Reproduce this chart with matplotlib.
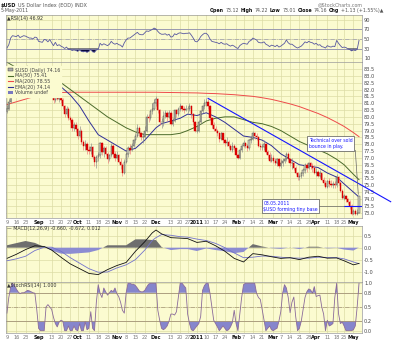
import numpy as np
import pandas as pd
import matplotlib
matplotlib.use("Agg")
import matplotlib.pyplot as plt
from matplotlib.lines import Line2D
from matplotlib.patches import Patch

plt.rcParams['font.family'] = ['DejaVu Sans']

# trading calendar for the daily bars
holidays = ["2010-09-06", "2010-11-25", "2010-12-24", "2011-04-22"]
days = pd.bdate_range("2010-08-09", "2011-05-05")
days = days[~days.isin(pd.to_datetime(holidays))]

first_open = 80.4
close = [80.6, 81.1, 82.3, 82.6, 82.5, 82.3, 82.0, 82.3, 82.6, 83.1,
         83.3, 83.5, 83.2, 83.2, 82.7, 83.0, 83.0, 82.3, 82.3, 82.1,
         82.7, 82.6, 82.3, 82.6,
         81.8, 81.2, 81.5, 81.3, 81.4, 81.2, 80.8, 80.2, 80.6, 79.9,
         79.8, 79.2, 79.4, 79.1, 78.6, 79.0, 78.2, 77.9, 78.0, 77.6,
         77.5, 77.8, 77.1, 76.7, 77.1, 77.2, 78.1, 77.4, 77.7, 77.3,
         76.9, 77.2, 77.9, 77.3, 77.0, 77.2, 76.7, 76.5, 75.9, 76.7,
         77.3, 77.7, 77.6, 77.9, 78.3, 78.6, 79.2, 78.8, 78.5, 78.5,
         79.0, 80.0, 79.9, 80.4,
         80.6, 81.0, 81.3, 80.5, 79.6, 79.6, 80.1, 80.3, 80.0, 80.3,
         79.5, 79.7, 80.5, 80.2, 80.6,
         80.8, 80.6, 80.5, 80.6,
         80.6, 80.8, 80.2, 79.6, 79.0, 79.0, 79.6, 80.4, 80.8, 81.0,
         81.1, 80.8, 79.9, 79.4, 79.1, 79.0, 78.8, 78.4, 78.8, 78.3,
         78.1, 78.2, 77.9, 77.6, 77.9, 77.7, 77.2, 77.0, 77.6, 77.9,
         78.1, 77.9, 77.7, 78.3, 78.4, 78.8, 78.6, 78.5, 77.9, 77.8,
         77.8, 78.0, 77.4, 77.2, 76.8, 77.0, 76.8, 76.6, 76.9, 76.4,
         76.6, 76.8, 76.9, 77.3, 76.9, 76.6, 76.6, 76.3, 75.9, 75.6,
         75.7, 75.9, 76.1, 76.5, 76.3, 76.6, 76.4, 76.3, 75.9, 76.0,
         75.7, 75.9, 75.4, 75.2, 74.9, 75.3, 75.1, 75.0, 75.1, 75.0,
         75.6, 75.2, 74.6, 74.1,
         74.2, 74.0, 73.8, 73.5, 72.9, 73.1, 72.9, 73.0, 74.2]
high = [80.9, 81.3, 82.4, 82.9, 82.8, 82.7, 82.5, 82.5, 82.9, 83.2,
        83.5, 83.8, 83.7, 83.5, 83.3, 83.2, 83.4, 83.1, 82.6, 82.5,
        82.9, 83.0, 82.8, 82.8,
        82.7, 81.9, 82.0, 81.8, 81.7, 81.6, 81.4, 80.9, 80.8, 80.7,
        80.1, 79.9, 79.6, 79.6, 79.2, 79.3, 79.1, 78.3, 78.3, 78.2,
        77.9, 78.1, 77.9, 77.2, 77.2, 77.4, 78.2, 78.2, 77.9, 77.9,
        77.4, 77.3, 78.1, 78.0, 77.5, 77.5, 77.3, 77.0, 76.6, 76.9,
        77.4, 77.9, 78.0, 78.1, 78.4, 78.8, 79.5, 79.3, 78.9, 78.8,
        79.3, 80.2, 80.2, 80.6,
        81.0, 81.3, 81.5, 81.4, 80.6, 79.9, 80.4, 80.5, 80.4, 80.5,
        80.4, 79.9, 80.6, 80.6, 80.7,
        81.0, 80.9, 80.8, 80.9,
        80.8, 81.0, 80.9, 80.3, 79.7, 79.3, 79.8, 80.5, 80.9, 81.3,
        81.4, 81.3, 80.9, 80.0, 79.6, 79.3, 79.1, 78.9, 78.9, 78.8,
        78.4, 78.5, 78.3, 78.0, 78.2, 78.0, 77.7, 77.3, 77.7, 78.0,
        78.3, 78.2, 78.0, 78.4, 78.6, 79.0, 78.9, 78.8, 78.6, 78.1,
        78.0, 78.3, 78.1, 77.6, 77.4, 77.3, 77.2, 77.0, 77.0, 77.0,
        76.9, 77.0, 77.1, 77.4, 77.4, 77.0, 77.0, 76.8, 76.4, 76.0,
        75.9, 76.0, 76.3, 76.6, 76.6, 76.7, 76.7, 76.6, 76.5, 76.3,
        76.1, 76.1, 75.9, 75.6, 75.4, 75.4, 75.5, 75.4, 75.3, 75.3,
        75.8, 75.7, 75.3, 74.7,
        74.4, 74.3, 74.1, 73.9, 73.6, 73.3, 73.3, 73.3, 74.2]
low = [80.3, 80.5, 81.0, 82.1, 82.2, 82.1, 81.8, 81.9, 82.2, 82.5,
       82.9, 83.1, 83.0, 82.9, 82.5, 82.6, 82.8, 82.2, 82.0, 81.9,
       82.0, 82.4, 82.2, 82.2,
       81.7, 81.0, 81.1, 81.2, 81.1, 81.0, 80.6, 80.0, 80.1, 79.8,
       79.6, 79.0, 79.0, 78.9, 78.4, 78.5, 78.0, 77.6, 77.6, 77.3,
       77.3, 77.3, 76.9, 76.4, 76.3, 76.8, 77.0, 77.2, 77.1, 77.2,
       76.6, 76.8, 77.1, 77.1, 76.8, 76.9, 76.6, 76.2, 75.7, 75.8,
       76.6, 77.1, 77.3, 77.5, 77.8, 78.1, 78.5, 78.6, 78.3, 78.1,
       78.4, 78.9, 79.6, 79.8,
       80.2, 80.5, 80.8, 80.3, 79.4, 79.2, 79.3, 79.9, 79.7, 79.9,
       79.4, 79.3, 79.6, 80.0, 80.1,
       80.4, 80.4, 80.3, 80.4,
       80.3, 80.4, 79.9, 79.4, 78.9, 78.8, 78.9, 79.5, 80.3, 80.6,
       80.8, 80.6, 79.8, 79.2, 79.0, 78.9, 78.6, 78.2, 78.3, 78.1,
       77.9, 77.9, 77.7, 77.5, 77.4, 77.6, 77.1, 76.9, 76.9, 77.4,
       77.8, 77.7, 77.5, 77.6, 78.1, 78.3, 78.4, 78.3, 77.8, 77.6,
       77.6, 77.6, 77.3, 76.9, 76.7, 76.7, 76.6, 76.5, 76.4, 76.3,
       76.3, 76.4, 76.6, 76.8, 76.7, 76.4, 76.2, 76.1, 75.8, 75.4,
       75.4, 75.5, 75.7, 75.9, 76.0, 76.2, 76.2, 76.0, 75.8, 75.7,
       75.6, 75.5, 75.3, 75.0, 74.8, 74.8, 74.9, 74.9, 74.8, 74.8,
       74.9, 75.0, 74.5, 74.0,
       73.9, 73.8, 73.6, 73.3, 72.8, 72.9, 72.8, 72.8, 73.0]

rsi = [31, 38, 52, 57, 56, 55, 58, 53, 55, 57,
       56, 54, 52, 52, 50, 54, 53, 45, 44, 43,
       49, 48, 44, 49, 42, 36, 43, 36, 38, 35,
       33, 30, 33, 28, 28, 26, 27, 26, 24, 27,
       24, 23, 24, 22, 24, 28, 23, 22, 27, 28,
       41, 37, 40, 38, 36, 39, 45, 41, 39, 41,
       38, 37, 33, 42, 48, 52, 52, 55, 58, 61,
       64, 60, 59, 59, 63, 67, 66, 68, 70, 73,
       71, 66, 62, 60, 60, 61, 58, 60, 54, 55,
       61, 59, 62, 63, 62, 61, 62, 62, 63, 58,
       52, 45, 44, 48, 55, 59, 62, 62, 58, 50,
       45, 44, 43, 42, 40, 43, 40, 39, 40, 37,
       35, 37, 35, 32, 30, 36, 39, 41, 40, 39,
       45, 47, 52, 50, 48, 43, 42, 42, 44, 39,
       37, 34, 37, 36, 34, 37, 33, 35, 38, 41,
       48, 42, 39, 39, 36, 33, 31, 33, 35, 39,
       44, 42, 45, 43, 42, 39, 41, 37, 38, 34,
       33, 31, 36, 34, 33, 35, 34, 47, 41, 36,
       32, 33, 32, 29, 28, 25, 27, 26, 28, 47]

stoch_rsi = [0.37, 0.70, 0.92, 1.00, 0.95, 0.88, 0.82, 0.78, 0.80, 0.80,
             0.82, 0.85, 0.84, 0.82, 0.80, 0.79, 0.45, 0.05, 0.00, 0.00,
             0.00, 0.50, 0.55, 0.50, 0.45, 0.28, 0.15, 0.08, 0.18, 0.22,
             0.20, 0.00, 0.00, 0.10, 0.00, 0.00, 0.10, 0.02, 0.00, 0.15,
             0.00, 0.00, 0.19, 0.02, 0.05, 0.40, 0.05, 0.00, 0.60, 0.97,
             0.79, 0.70, 0.90, 0.82, 0.75, 0.80, 0.85, 0.82, 0.90, 0.78,
             0.72, 0.60, 0.43, 0.37, 0.80, 1.00, 1.00, 0.98, 0.98, 0.95,
             0.90, 0.84, 0.82, 0.82, 0.85, 0.92, 0.98, 1.00, 1.00, 1.00,
             1.00, 0.43, 0.22, 0.05, 0.02, 0.05, 0.10, 0.20, 0.35, 0.35,
             0.33, 0.40, 0.70, 1.00, 1.00, 0.95, 0.90, 0.35, 0.15, 0.02,
             0.00, 0.05, 0.10, 0.15, 0.30, 0.85, 0.95, 1.00, 1.00, 0.79,
             0.50, 0.22, 0.15, 0.08, 0.00, 0.05, 0.10, 0.05, 0.00, 0.02,
             0.08, 0.17, 0.43, 0.15, 0.00, 0.35, 0.70, 0.97, 1.00, 1.00,
             1.00, 1.00, 1.00, 1.00, 0.79, 0.70, 0.66, 0.45, 0.22, 0.00,
             0.05, 0.10, 0.02, 0.00, 0.03, 0.05, 0.20, 0.40, 0.79, 0.97,
             0.90, 0.70, 0.38, 0.60, 0.71, 0.30, 0.00, 0.05, 0.20, 0.45,
             0.70, 0.82, 0.88, 0.86, 0.79, 0.93, 0.72, 0.74, 0.75, 0.50,
             0.35, 0.00, 0.22, 0.10, 0.12, 0.15, 0.70, 1.00, 0.36, 0.15,
             0.18, 0.10, 0.00, 0.00, 0.00, 0.00, 0.02, 0.10, 0.50, 1.00]

# smoother overlays, one value per week
ind_dates = ["2010-08-09", "2010-08-16", "2010-08-23", "2010-08-30", "2010-09-07",
             "2010-09-13", "2010-09-20", "2010-09-27", "2010-10-04", "2010-10-11",
             "2010-10-18", "2010-10-25", "2010-11-01", "2010-11-08", "2010-11-15",
             "2010-11-22", "2010-11-29", "2010-12-01", "2010-12-06", "2010-12-13",
             "2010-12-20", "2010-12-27", "2011-01-03", "2011-01-10", "2011-01-17",
             "2011-01-24", "2011-01-31", "2011-02-07", "2011-02-14", "2011-02-21",
             "2011-02-28", "2011-03-07", "2011-03-14", "2011-03-21", "2011-03-28",
             "2011-04-04", "2011-04-11", "2011-04-18", "2011-04-25", "2011-05-02",
             "2011-05-05"]
ema20 = [81.9, 82.0, 82.4, 82.7, 82.7, 82.5, 82.2, 81.6, 80.8, 79.7,
         78.7, 78.3, 77.9, 77.5, 77.7, 78.3, 78.9, 79.2, 79.5, 79.7,
         79.9, 80.2, 80.1, 80.3, 80.0, 79.6, 79.1, 78.6, 78.5, 78.3,
         77.9, 77.3, 76.9, 76.5, 76.4, 76.3, 75.9, 75.6, 75.1, 74.5,
         74.14]
ma50 = [84.0, 83.6, 83.3, 83.1, 82.95, 82.8, 82.5, 82.0, 81.5, 81.0,
        80.5, 80.0, 79.6, 79.2, 78.9, 78.7, 78.7, 78.7, 78.7, 78.7,
        78.8, 79.0, 79.3, 79.7, 79.9, 80.0, 80.0, 79.8, 79.6, 79.5,
        79.3, 79.0, 78.6, 78.2, 77.9, 77.6, 77.3, 76.9, 76.5, 75.8,
        75.41]
ma200 = [80.9, 81.1, 81.3, 81.5, 81.65, 81.72, 81.78, 81.8, 81.8, 81.8,
         81.8, 81.8, 81.8, 81.8, 81.8, 81.8, 81.8, 81.8, 81.79, 81.78,
         81.77, 81.76, 81.75, 81.72, 81.7, 81.66, 81.62, 81.56, 81.5, 81.4,
         81.28, 81.12, 80.95, 80.75, 80.5, 80.25, 79.95, 79.6, 79.3, 78.85,
         78.55]
macd = [-0.45, -0.28, -0.08, 0.08, 0.05, -0.10, -0.40, -0.68, -0.88, -1.08,
        -1.13, -0.92, -0.75, -0.62, -0.15, 0.25, 0.62, 0.74, 0.58, 0.42,
        0.40, 0.38, 0.22, 0.27, 0.08, -0.15, -0.45, -0.60, -0.25, -0.30,
        -0.38, -0.45, -0.42, -0.50, -0.40, -0.36, -0.44, -0.43, -0.55, -0.72,
        -0.660]
macd_signal = [-0.55, -0.47, -0.36, -0.12, 0.02, 0.02, -0.15, -0.42, -0.65, -0.88,
               -1.03, -1.02, -0.85, -0.72, -0.50, -0.10, 0.30, 0.42, 0.55, 0.52,
               0.46, 0.44, 0.36, 0.30, 0.18, 0.00, -0.22, -0.42, -0.40, -0.35,
               -0.36, -0.40, -0.43, -0.44, -0.44, -0.40, -0.41, -0.42, -0.47, -0.60,
               -0.672]

tick_dates = ["2010-08-09", "2010-08-16", "2010-08-23", "2010-09-01", "2010-09-13",
              "2010-09-20", "2010-09-27", "2010-10-01", "2010-10-11", "2010-10-18",
              "2010-10-25", "2010-11-01", "2010-11-08", "2010-11-15", "2010-11-22",
              "2010-12-01", "2010-12-13", "2010-12-20", "2010-12-27", "2011-01-03",
              "2011-01-10", "2011-01-17", "2011-01-24", "2011-02-01", "2011-02-07",
              "2011-02-14", "2011-02-21", "2011-03-01", "2011-03-07", "2011-03-14",
              "2011-03-21", "2011-03-28", "2011-04-01", "2011-04-11", "2011-04-18",
              "2011-04-25", "2011-05-02"]
tick_labels = ["9", "16", "23", "Sep", "13", "20", "27", "Oct", "11", "18", "25",
               "Nov", "8", "15", "22", "Dec", "13", "20", "27", "2011", "10", "17",
               "24", "Feb", "7", "14", "21", "Mar", "7", "14", "21", "28", "Apr",
               "11", "18", "25", "May"]
month_labels = {"Sep", "Oct", "Nov", "Dec", "2011", "Feb", "Mar", "Apr", "May"}

# hand-drawn annotations
trend_start, trend_sessions, trend_values = "2011-01-11", 98, [81.35, 73.8]
base_date, base_level = "2011-04-25", 73.47

BG = "#fbfbd0"
GRID = "#dcdca6"
C_MA50 = "#4b6b2b"
C_MA200 = "#ee4a4a"
C_EMA = "#303098"

x = np.arange(len(days))
xi = days.get_indexer(pd.to_datetime(ind_dates))
xt = days.get_indexer(pd.to_datetime(tick_dates))

fig = plt.figure(figsize=(4, 3.41), dpi=100)
W, H = 400.0, 341.0


def panel(top, bottom):
    return fig.add_axes([6 / W, 1 - bottom / H, 356 / W, (bottom - top) / H])


ax_rsi = panel(15, 62)
ax_main = panel(62, 218)
ax_macd = panel(225.5, 282)
ax_st = panel(282, 333)


def style(ax, yticks, fmt, xlabels):
    ax.set_facecolor(BG)
    ax.set_xlim(-0.5, 190.6)
    ax.set_xticks(xt)
    ax.set_yticks(yticks)
    ax.set_yticklabels([fmt % v for v in yticks])
    ax.yaxis.tick_right()
    ax.tick_params(length=0, labelsize=3.6, colors="#444444", pad=1.5)
    ax.grid(True, color=GRID, lw=0.5)
    ax.set_axisbelow(True)
    for s in ax.spines.values():
        s.set_color("#9a9a9a")
        s.set_linewidth(0.5)
    if xlabels:
        ax.set_xticklabels(tick_labels)
        ax.tick_params(axis="x", pad=1.2)
        for t in ax.get_xticklabels():
            if t.get_text() in month_labels:
                t.set_color("#111111")
                t.set_fontweight("bold")
            else:
                t.set_color("#777777")
    else:
        ax.tick_params(axis="x", labelbottom=False)


# RSI panel
r = np.array(rsi, dtype=float)
ax_rsi.set_ylim(1.6, 100.5)
style(ax_rsi, [10, 30, 50, 70, 90], "%d", False)
ax_rsi.axhline(70, color="#8e8eb0", lw=0.6)
ax_rsi.axhline(30, color="#8e8eb0", lw=0.6)
ax_rsi.axhline(50, color="#9a9ab0", lw=0.5, ls="-.")
ax_rsi.fill_between(x, r, 30, where=r < 30, interpolate=True, color="#0a0a3a", lw=0)
ax_rsi.fill_between(x, r, 70, where=r > 70, interpolate=True, color="#0a0a3a", lw=0)
ax_rsi.plot(x, r, color="#5858a0", lw=0.6)
ax_rsi.text(0.004, 0.985, "\u25b2RSI(14) 46.92", transform=ax_rsi.transAxes,
            fontsize=3.4, color="#333333", va="top", ha="left")

# price panel
ax_main.set_ylim(72.61, 84.01)
style(ax_main, list(np.arange(73.0, 83.75, 0.5)), "%.1f", True)
ax_main.plot(xi, ma200, color=C_MA200, lw=0.7, zorder=2)
ax_main.plot(xi, ma50, color=C_MA50, lw=0.7, zorder=2)
ax_main.plot(xi, ema20, color=C_EMA, lw=0.7, zorder=2)

c = np.array(close)
o = np.r_[first_open, c[:-1]]
h = np.array(high)
lo = np.array(low)
up = c >= o
ax_main.vlines(x[up], lo[up], h[up], color="#8a8a8a", lw=0.45, zorder=3)
ax_main.vlines(x[~up], lo[~up], h[~up], color="#ee7777", lw=0.45, zorder=3)
ax_main.bar(x[up], (c - o)[up], bottom=o[up], width=0.7, color="#d4d4c4",
            edgecolor="#3a3a3a", lw=0.3, zorder=4)
ax_main.bar(x[~up], (c - o)[~up], bottom=o[~up], width=0.7, color="#e00000",
            edgecolor="#d00000", lw=0.3, zorder=4)

t0 = days.get_loc(pd.Timestamp(trend_start))
ax_main.plot([t0, t0 + trend_sessions], trend_values, color="#1414ff", lw=0.8,
             zorder=5, clip_on=False)

b0 = days.get_loc(pd.Timestamp(base_date))
ax_main.plot([b0, 190.6], [base_level, base_level], color="#1414ff", lw=0.8, zorder=5)

box = dict(boxstyle="square,pad=0.35", fc="white", ec="#555555", lw=0.5)
ax_main.text(162.2, 78.45, "Technical over sold\nbounce in play.", fontsize=3.3,
             color="#1a1aff", va="top", ha="left", bbox=box, zorder=6, linespacing=1.25)
ax_main.plot([187.0, 188.6], [77.55, 74.35], color="#666666", lw=0.5, zorder=5)
ax_main.text(137.6, 73.88, "03.05.2011\n$USD forming tiny base", fontsize=3.3,
             color="#1a1aff", va="top", ha="left", bbox=box, zorder=6, linespacing=1.25)
ax_main.plot([167.0, b0], [base_level, base_level], color="#666666", lw=0.5, zorder=5)

handles = [Patch(fc="#a8a8a8", ec="#333333", lw=0.3),
           Line2D([], [], color=C_MA50, lw=0.8),
           Line2D([], [], color=C_MA200, lw=0.8),
           Line2D([], [], color=C_EMA, lw=0.8),
           Patch(fc="#7878c0", ec="none")]
labels = ["$USD (Daily) 74.16", "MA(50) 75.41", "MA(200) 78.55",
          "EMA(20) 74.14", "Volume undef"]
leg = ax_main.legend(handles, labels, loc="upper left", bbox_to_anchor=(0.0, 0.975),
                     fontsize=3.4, frameon=True, facecolor=BG, edgecolor=BG,
                     framealpha=1, borderpad=0.25, labelspacing=0.15,
                     handlelength=1.2, handleheight=0.6, handletextpad=0.3,
                     borderaxespad=0.1, fancybox=False)
leg.set_zorder(10)
for t in leg.get_texts():
    t.set_color("#444444")

# MACD panel
m = np.array(macd)
s = np.array(macd_signal)
hist = m - s
ax_macd.set_ylim(-1.44, 0.93)
style(ax_macd, [-1.0, -0.5, 0.0, 0.5], "%.1f", False)
ax_macd.fill_between(xi, hist, 0, where=hist >= 0, interpolate=True, color="#6e6e6e", lw=0)
ax_macd.fill_between(xi, hist, 0, where=hist <= 0, interpolate=True, color="#8c8cd2", lw=0)
ax_macd.plot(xi, s, color="#7272cc", lw=0.6)
ax_macd.plot(xi, m, color="#111111", lw=0.6)
ax_macd.text(0.004, 0.985, "\u2014 MACD(12,26,9) -0.660, -0.672, 0.012",
             transform=ax_macd.transAxes, fontsize=3.4, color="#333333",
             va="top", ha="left")

# StochRSI panel
st = np.array(stoch_rsi)
ax_st.set_ylim(-0.049, 1.027)
style(ax_st, [0.0, 0.2, 0.5, 0.8, 1.0], "%.1f", True)
ax_st.axhline(0.8, color="#a49478", lw=0.6)
ax_st.axhline(0.2, color="#a49478", lw=0.6)
ax_st.axhline(0.5, color="#a49478", lw=0.5, ls="-.")
ax_st.fill_between(x, st, 0.8, where=st > 0.8, interpolate=True, color="#8686cc", lw=0)
ax_st.fill_between(x, st, 0.2, where=st < 0.2, interpolate=True, color="#8686cc", lw=0)
ax_st.plot(x, st, color="#8a6a9a", lw=0.6)
ax_st.text(0.004, 0.985, "\u25b2StochRSI(14) 1.000", transform=ax_st.transAxes,
           fontsize=3.4, color="#333333", va="top", ha="left")


# header lines
def text_run(x0, y0, parts, size):
    prev = fig.text(x0 / W, 1 - y0 / H, parts[0][0], fontsize=size,
                    fontweight=parts[0][1], color=parts[0][2], va="bottom")
    for txt, weight, col in parts[1:]:
        prev = ax_main.annotate(txt, xy=(1, 0), xycoords=prev, xytext=(1.2, 0),
                                textcoords="offset points", fontsize=size,
                                fontweight=weight, color=col, va="bottom",
                                annotation_clip=False)


text_run(1, 8, [("$USD", "bold", "#111111"),
                ("US Dollar Index (EOD) INDX", "normal", "#555555")], 3.6)
fig.text(1 / W, 1 - 13 / H, "5-May-2011", fontsize=3.4, color="#555555", va="bottom")
fig.text(363 / W, 1 - 7 / H, "@StockCharts.com", fontsize=3.4, color="#777777",
         va="bottom", ha="right")
text_run(210, 13, [("Open", "bold", "#111111"), ("73.12", "normal", "#555555"),
                   ("High", "bold", "#111111"), ("74.22", "normal", "#555555"),
                   ("Low", "bold", "#111111"), ("73.01", "normal", "#555555"),
                   ("Close", "bold", "#111111"), ("74.16", "normal", "#555555"),
                   ("Chg", "bold", "#111111"),
                   ("+1.13 (+1.55%)\u25b2", "normal", "#555555")], 3.4)

fig.savefig("out.png", dpi=100, facecolor="white")
